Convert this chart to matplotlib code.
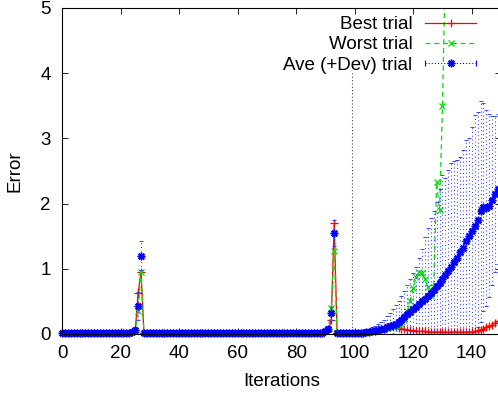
import numpy as np
import matplotlib
matplotlib.use("Agg")
import matplotlib.pyplot as plt
from matplotlib.lines import Line2D
from matplotlib.legend_handler import HandlerLine2D, HandlerTuple

plt.rcParams['font.family'] = ['Liberation Sans', 'DejaVu Sans']

# error per iteration (0..149)
iterations = np.arange(150)

best = [
    0.01, 0.01, 0.01, 0.01, 0.01, 0.01, 0.01, 0.01, 0.01, 0.01,
    0.01, 0.01, 0.01, 0.01, 0.01, 0.01, 0.01, 0.01, 0.01, 0.01,
    0.01, 0.01, 0.01, 0.01, 0.02, 0.03, 0.63, 0.95, 0.01, 0.01,
    0.01, 0.01, 0.01, 0.01, 0.01, 0.01, 0.01, 0.01, 0.01, 0.01,
    0.01, 0.01, 0.01, 0.01, 0.01, 0.01, 0.01, 0.01, 0.01, 0.01,
    0.01, 0.01, 0.01, 0.01, 0.01, 0.01, 0.01, 0.01, 0.01, 0.01,
    0.01, 0.01, 0.01, 0.01, 0.01, 0.01, 0.01, 0.01, 0.01, 0.01,
    0.01, 0.01, 0.01, 0.01, 0.01, 0.01, 0.01, 0.01, 0.01, 0.01,
    0.01, 0.01, 0.01, 0.01, 0.01, 0.01, 0.01, 0.01, 0.01, 0.01,
    0.02, 0.05, 0.22, 1.70, 0.01, 0.01, 0.01, 0.01, 0.01, 0.01,
    0.01, 0.01, 0.01, 0.01, 0.02, 0.03, 0.04, 0.05, 0.06, 0.08,
    0.09, 0.10, 0.11, 0.11, 0.10, 0.09, 0.08, 0.07, 0.06, 0.06,
    0.05, 0.05, 0.04, 0.04, 0.04, 0.03, 0.03, 0.03, 0.03, 0.03,
    0.03, 0.03, 0.03, 0.03, 0.03, 0.03, 0.03, 0.03, 0.03, 0.03,
    0.03, 0.04, 0.05, 0.06, 0.08, 0.10, 0.12, 0.14, 0.17, 0.20,
]

worst = [
    0.01, 0.01, 0.01, 0.01, 0.01, 0.01, 0.01, 0.01, 0.01, 0.01,
    0.01, 0.01, 0.01, 0.01, 0.01, 0.01, 0.01, 0.01, 0.01, 0.01,
    0.01, 0.01, 0.01, 0.01, 0.02, 0.05, 0.35, 0.95, 0.01, 0.01,
    0.01, 0.01, 0.01, 0.01, 0.01, 0.01, 0.01, 0.01, 0.01, 0.01,
    0.01, 0.01, 0.01, 0.01, 0.01, 0.01, 0.01, 0.01, 0.01, 0.01,
    0.01, 0.01, 0.01, 0.01, 0.01, 0.01, 0.01, 0.01, 0.01, 0.01,
    0.01, 0.01, 0.01, 0.01, 0.01, 0.01, 0.01, 0.01, 0.01, 0.01,
    0.01, 0.01, 0.01, 0.01, 0.01, 0.01, 0.01, 0.01, 0.01, 0.01,
    0.01, 0.01, 0.01, 0.01, 0.01, 0.01, 0.01, 0.01, 0.01, 0.01,
    0.03, 0.08, 0.40, 1.27, 0.01, 0.01, 0.01, 0.01, 0.01, 0.01,
    0.01, 0.01, 0.01, 0.01, 0.01, 0.02, 0.03, 0.04, 0.05, 0.07,
    0.08, 0.09, 0.10, 0.11, 0.12, 0.14, 0.16, 0.22, 0.35, 0.50,
    0.70, 0.87, 0.95, 0.93, 0.85, 0.72, 0.58, 0.72, 2.33, 1.90,
    3.50, 5.70, 6.40, 7.00, 7.50, 8.10, 8.60, 9.00, 9.40, 9.80,
    10.2, 10.5, 10.9, 11.2, 11.5, 11.8, 12.1, 12.4, 12.6, 12.9,
]

ave = [
    0.01, 0.01, 0.01, 0.01, 0.01, 0.01, 0.01, 0.01, 0.01, 0.01,
    0.01, 0.01, 0.01, 0.01, 0.01, 0.01, 0.01, 0.01, 0.01, 0.01,
    0.01, 0.01, 0.01, 0.02, 0.03, 0.06, 0.43, 1.20, 0.01, 0.01,
    0.01, 0.01, 0.01, 0.01, 0.01, 0.01, 0.01, 0.01, 0.01, 0.01,
    0.01, 0.01, 0.01, 0.01, 0.01, 0.01, 0.01, 0.01, 0.01, 0.01,
    0.01, 0.01, 0.01, 0.01, 0.01, 0.01, 0.01, 0.01, 0.01, 0.01,
    0.01, 0.01, 0.01, 0.01, 0.01, 0.01, 0.01, 0.01, 0.01, 0.01,
    0.01, 0.01, 0.01, 0.01, 0.01, 0.01, 0.01, 0.01, 0.01, 0.01,
    0.01, 0.01, 0.01, 0.01, 0.01, 0.01, 0.01, 0.01, 0.02, 0.02,
    0.04, 0.08, 0.32, 1.55, 0.01, 0.01, 0.01, 0.01, 0.01, 0.01,
    0.01, 0.01, 0.02, 0.02, 0.03, 0.03, 0.04, 0.05, 0.06, 0.07,
    0.08, 0.10, 0.12, 0.14, 0.16, 0.19, 0.22, 0.26, 0.30, 0.34,
    0.38, 0.42, 0.46, 0.50, 0.54, 0.58, 0.63, 0.68, 0.73, 0.78,
    0.84, 0.90, 0.96, 1.03, 1.10, 1.17, 1.26, 1.32, 1.42, 1.50,
    1.58, 1.66, 1.75, 1.88, 1.95, 1.93, 1.97, 2.05, 2.15, 2.22,
]

dev = [
    0.01, 0.01, 0.01, 0.01, 0.01, 0.01, 0.01, 0.01, 0.01, 0.01,
    0.01, 0.01, 0.01, 0.01, 0.01, 0.01, 0.01, 0.01, 0.01, 0.01,
    0.01, 0.01, 0.01, 0.01, 0.02, 0.04, 0.22, 0.22, 0.01, 0.01,
    0.01, 0.01, 0.01, 0.01, 0.01, 0.01, 0.01, 0.01, 0.01, 0.01,
    0.01, 0.01, 0.01, 0.01, 0.01, 0.01, 0.01, 0.01, 0.01, 0.01,
    0.01, 0.01, 0.01, 0.01, 0.01, 0.01, 0.01, 0.01, 0.01, 0.01,
    0.01, 0.01, 0.01, 0.01, 0.01, 0.01, 0.01, 0.01, 0.01, 0.01,
    0.01, 0.01, 0.01, 0.01, 0.01, 0.01, 0.01, 0.01, 0.01, 0.01,
    0.01, 0.01, 0.01, 0.01, 0.01, 0.01, 0.01, 0.01, 0.01, 0.01,
    0.03, 0.05, 0.10, 0.20, 0.01, 0.01, 0.01, 0.01, 0.01, 0.01,
    0.01, 0.01, 0.02, 0.03, 0.04, 0.05, 0.06, 0.08, 0.10, 0.12,
    0.14, 0.17, 0.20, 0.24, 0.28, 0.32, 0.36, 0.40, 0.45, 0.50,
    0.55, 0.60, 0.70, 0.80, 0.95, 1.05, 1.15, 1.20, 1.30, 1.45,
    1.60, 1.50, 1.55, 1.60, 1.55, 1.50, 1.45, 1.50, 1.55, 1.50,
    1.60, 1.70, 1.65, 1.70, 1.60, 1.50, 1.40, 1.30, 1.20, 1.15,
]

split_iter = 99   # dotted marker line
split_top = 4

RED = '#ff0000'
GREEN = '#00e000'
BLUE = '#0000ff'
asterisk = (8, 2, 0)
FS = 13.5

fig = plt.figure(figsize=(4.98, 3.99), dpi=100)
W, H = 498, 399
ax = fig.add_axes([62 / W, (H - 334) / H, (501 - 62) / W, (334 - 8) / H])

ax.vlines(split_iter, 0, split_top, colors='#444444', linestyles=(0, (1, 2)), lw=0.8)

l_best, = ax.plot(iterations, best, color=RED, lw=0.9, marker='+', ms=5.5, mew=0.9)
l_worst, = ax.plot(iterations, worst, color=GREEN, lw=0.9, ls=(0, (4, 3)),
                   marker='x', ms=5, mew=0.9)
eb = ax.errorbar(iterations, ave, yerr=dev, fmt='none', ecolor='#3344ff',
                 elinewidth=0.75, capsize=1.6, capthick=0.7)
for c in eb[2]:
    c.set_linestyle((0, (1, 2.6)))
l_ave, = ax.plot(iterations, ave, ls='none', color=BLUE, marker=asterisk,
                 ms=5.5, mew=1.1, clip_on=False)

ax.set_xlim(0, 150)
ax.set_ylim(0, 5)
ax.set_xticks(range(0, 150, 20))
ax.set_yticks(range(0, 6))
ax.tick_params(direction='in', top=True, right=True, length=4, width=0.6,
               labelsize=FS, colors='black')
ax.tick_params(axis='y', pad=8)
ax.tick_params(axis='x', pad=8)
for s in ax.spines.values():
    s.set_linewidth(0.8)
    s.set_zorder(5)

ax.set_xlabel('Iterations', fontsize=FS, labelpad=8)
ax.set_ylabel('Error', fontsize=FS, labelpad=12)

# legend handles in gnuplot style
h_best = Line2D([], [], color=RED, lw=0.9, marker='+', ms=5.5, mew=0.9)
h_worst = Line2D([], [], color=GREEN, lw=0.9, ls=(0, (4, 3)), marker='x', ms=5, mew=0.9)
h_ave_line = Line2D([], [], color=BLUE, lw=0.75, ls=(0, (1, 2)), marker=asterisk, ms=5.5, mew=1.1)
h_ave_caps = Line2D([], [], color=BLUE, ls='none', marker='|', ms=4, mew=0.8)

leg = ax.legend([h_best, h_worst, (h_ave_line, h_ave_caps)],
                ['Best trial', 'Worst trial', 'Ave (+Dev) trial'],
                loc='upper right', bbox_to_anchor=((476 - 62) / 439, (334 - 16) / 326),
                frameon=False, markerfirst=False, fontsize=FS,
                handlelength=2.7, handletextpad=0.7, labelspacing=0.17,
                borderpad=0, borderaxespad=0, numpoints=1,
                handler_map={h_ave_caps: HandlerLine2D(numpoints=2, marker_pad=0),
                             tuple: HandlerTuple(ndivide=1)})

fig.savefig('out.png', dpi=100)
